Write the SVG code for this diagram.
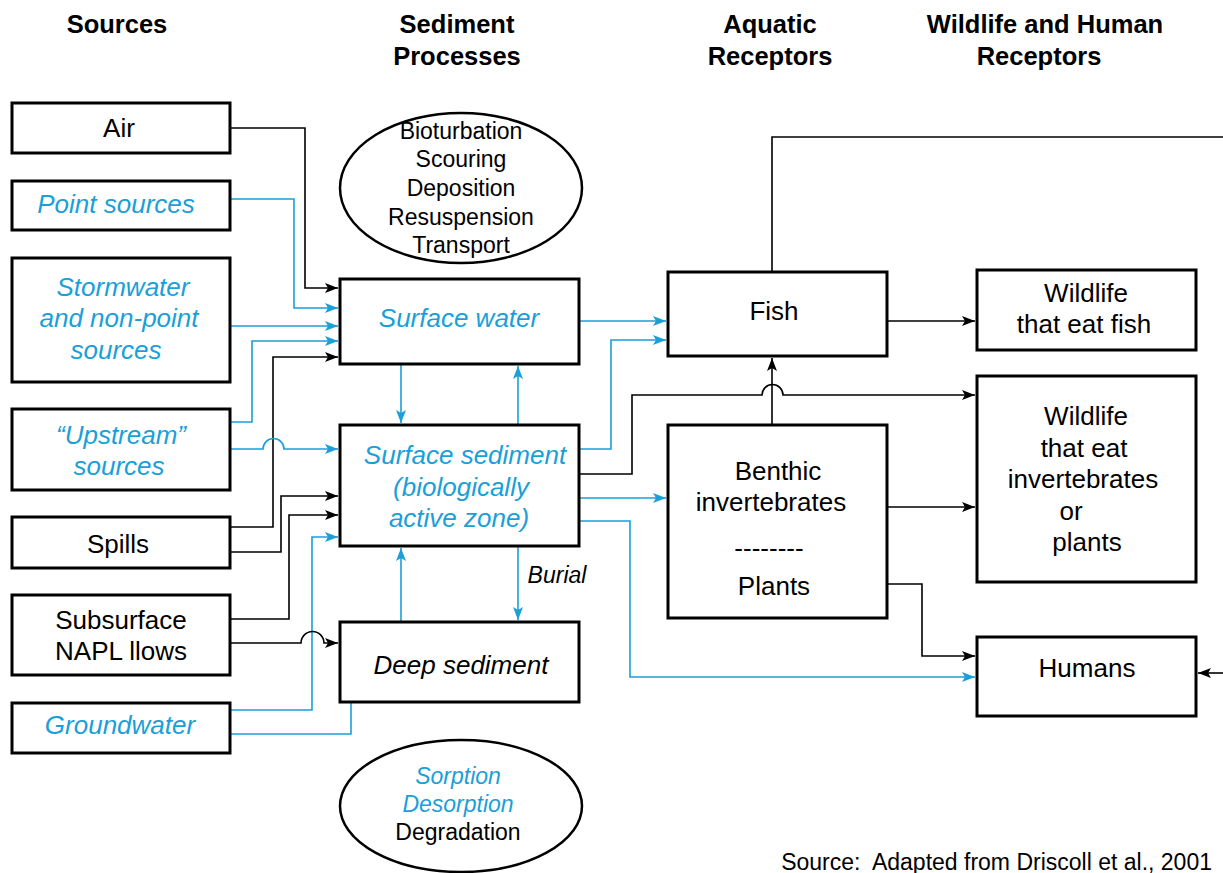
<svg xmlns="http://www.w3.org/2000/svg" width="1223" height="873" viewBox="0 0 1223 873">
<style>
.box{fill:#fff;stroke:#000;stroke-width:3}
.ell{fill:#fff;stroke:#000;stroke-width:2.5}
.t{font-family:"Liberation Sans",Arial,sans-serif;font-size:26px;fill:#000;text-anchor:middle}
.h{font-family:"Liberation Sans",Arial,sans-serif;font-size:25.5px;font-weight:bold;fill:#000;text-anchor:middle}
.e{font-family:"Liberation Sans",Arial,sans-serif;font-size:23px;fill:#000;text-anchor:middle}
text.b{fill:#1a9fd9;font-style:italic}
.k{fill:none;stroke:#000;stroke-width:1.6}
.c{fill:none;stroke:#1a9fd9;stroke-width:1.6}
.ka{marker-end:url(#ak)}
.ca{marker-end:url(#ac)}
</style>
<defs>
<marker id="ak" markerUnits="userSpaceOnUse" markerWidth="14" markerHeight="10" refX="13" refY="5" orient="auto"><path d="M0,0 L13,5 L0,10 L3,5 z" fill="#000"/></marker>
<marker id="ac" markerUnits="userSpaceOnUse" markerWidth="14" markerHeight="10" refX="13" refY="5" orient="auto"><path d="M0,0 L13,5 L0,10 L3,5 z" fill="#1a9fd9"/></marker>
</defs>
<rect width="1223" height="873" fill="#fff"/>
<g id="headers">
<text class="h" x="117" y="33">Sources</text>
<text class="h" x="457" y="33">Sediment</text>
<text class="h" x="457" y="65">Processes</text>
<text class="h" x="770" y="33">Aquatic</text>
<text class="h" x="770" y="65">Receptors</text>
<text class="h" x="1045" y="33">Wildlife and Human</text>
<text class="h" x="1039" y="65">Receptors</text>
</g>
<g id="connectors">
<path class="k ka" d="M230,128 H305 V288 H338"/>
<path class="c ca" d="M230,199 H294 V308 H338"/>
<path class="c ca" d="M230,326 H338"/>
<path class="c ca" d="M230,422 H252 V341 H338"/>
<path class="k ka" d="M230,527 H273 V357 H338"/>
<path class="c ca" d="M230,449 H263 A10.5,10.5 0 0 1 284,449 H338"/>
<path class="k ka" d="M230,552 H281 V496 H338"/>
<path class="k ka" d="M230,619 H289 V515 H338"/>
<path class="c ca" d="M230,710 H312 V537 H338"/>
<path class="c" d="M230,734 H351 V702"/>
<path class="k ka" d="M230,643 H301 A11.5,11.5 0 0 1 324,643 H338"/>
<path class="c ca" d="M401,364 V423"/>
<path class="c ca" d="M518,425 V366"/>
<path class="c ca" d="M401,622 V548"/>
<path class="c ca" d="M518,546 V620"/>
<path class="c ca" d="M579,321 H666"/>
<path class="c ca" d="M579,449 H611 V340 H666"/>
<path class="c ca" d="M579,498 H666"/>
<path class="c ca" d="M579,521 H630 V677 H975"/>
<path class="k ka" d="M579,474 H632 V395 H762 A10.5,10.5 0 0 1 783,395 H975"/>
<path class="k ka" d="M772,425 V358"/>
<path class="k" d="M772,272 V137 H1223"/>
<path class="k ka" d="M887,321 H975"/>
<path class="k ka" d="M887,507 H975"/>
<path class="k ka" d="M887,584 H922 V656 H975"/>
<path class="k ka" d="M1223,673 H1198"/>
</g>
<g id="n_air"><rect class="box" x="12" y="103" width="218" height="50"/><text class="t" x="119" y="137">Air</text></g>
<g id="n_point"><rect class="box" x="12" y="181" width="218" height="49"/><text class="t b" x="116" y="213">Point sources</text></g>
<g id="n_storm"><rect class="box" x="12" y="258" width="218" height="124"/><text class="t b" x="123" y="296">Stormwater</text><text class="t b" x="119" y="327">and non-point</text><text class="t b" x="116" y="359">sources</text></g>
<g id="n_upstream"><rect class="box" x="12" y="409" width="218" height="81"/><text class="t b" x="121" y="444">“Upstream”</text><text class="t b" x="119" y="475">sources</text></g>
<g id="n_spills"><rect class="box" x="12" y="517" width="218" height="51"/><text class="t" x="118" y="553">Spills</text></g>
<g id="n_subsurface"><rect class="box" x="12" y="595" width="218" height="80"/><text class="t" x="121" y="629">Subsurface</text><text class="t" x="121" y="660">NAPL llows</text></g>
<g id="n_groundwater"><rect class="box" x="12" y="703" width="218" height="50"/><text class="t b" x="120" y="734">Groundwater</text></g>
<g id="n_processes"><ellipse class="ell" cx="461" cy="188" rx="121" ry="75"/><text class="e" x="461" y="139">Bioturbation</text><text class="e" x="461" y="167">Scouring</text><text class="e" x="461" y="196">Deposition</text><text class="e" x="461" y="225">Resuspension</text><text class="e" x="461" y="253">Transport</text></g>
<g id="n_surfacewater"><rect class="box" x="340" y="279" width="239" height="85"/><text class="t b" x="459" y="327">Surface water</text></g>
<g id="n_surfacesed"><rect class="box" x="340" y="425" width="239" height="121"/><text class="t b" x="465" y="464">Surface sediment</text><text class="t b" x="461" y="496">(biologically</text><text class="t b" x="459" y="527">active zone)</text></g>
<g id="n_burial"><text class="t" x="557" y="583" style="font-size:23px;font-style:italic">Burial</text></g>
<g id="n_deepsed"><rect class="box" x="340" y="622" width="239" height="80"/><text class="t" x="461" y="674" style="font-style:italic">Deep sediment</text></g>
<g id="n_sorption"><ellipse class="ell" cx="461" cy="806" rx="121" ry="66"/><text class="e b" x="458" y="784">Sorption</text><text class="e b" x="458" y="812">Desorption</text><text class="e" x="458" y="840">Degradation</text></g>
<g id="n_fish"><rect class="box" x="668" y="272" width="219" height="84"/><text class="t" x="774" y="320">Fish</text></g>
<g id="n_benthic"><rect class="box" x="668" y="425" width="219" height="193"/><text class="t" x="778" y="480">Benthic</text><text class="t" x="771" y="511">invertebrates</text><text class="t" x="769" y="557">--------</text><text class="t" x="774" y="595">Plants</text></g>
<g id="n_wfish"><rect class="box" x="977" y="270" width="219" height="80"/><text class="t" x="1086" y="302">Wildlife</text><text class="t" x="1084" y="333">that eat fish</text></g>
<g id="n_winv"><rect class="box" x="977" y="376" width="219" height="206"/><text class="t" x="1086" y="425">Wildlife</text><text class="t" x="1084" y="457">that eat</text><text class="t" x="1083" y="488">invertebrates</text><text class="t" x="1071" y="520">or</text><text class="t" x="1087" y="551">plants</text></g>
<g id="n_humans"><rect class="box" x="977" y="637" width="219" height="79"/><text class="t" x="1087" y="677">Humans</text></g>
<g id="source"><text x="1212" y="870" xml:space="preserve" style="font-family:'Liberation Sans',Arial,sans-serif;font-size:23px;text-anchor:end">Source:  Adapted from Driscoll et al., 2001</text></g>
</svg>
